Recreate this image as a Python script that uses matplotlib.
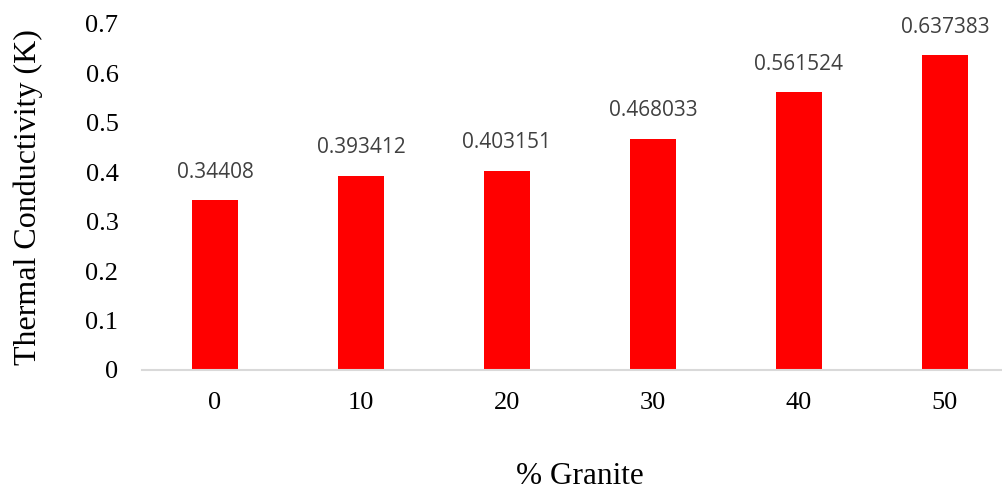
import matplotlib.pyplot as plt

# Thermal conductivity vs granite content
granite = ["0", "10", "20", "30", "40", "50"]
conductivity = [0.34408, 0.393412, 0.403151, 0.468033, 0.561524, 0.637383]

fig = plt.figure(figsize=(10.03, 4.91), dpi=100)
ax = fig.add_axes([142 / 1003, 1 - 370 / 491, 876 / 1003, 346 / 491])

x = range(len(granite))
bars = ax.bar(x, conductivity, width=0.32, color="#ff0000")

for b, v in zip(bars, conductivity):
    ax.annotate(f"{v:g}", (b.get_x() + b.get_width() / 2, v),
                xytext=(0, 12.5), textcoords="offset points",
                ha="center", va="bottom", fontsize=15,
                family="Open Sans", color="#404040")

ax.set_xlim(-0.5, len(granite) - 0.5)
ax.set_ylim(0, 0.7)
ax.set_xticks(list(x))
ax.set_xticklabels(granite)
ax.set_yticks([0, 0.1, 0.2, 0.3, 0.4, 0.5, 0.6, 0.7])
ax.set_yticklabels(["0", "0.1", "0.2", "0.3", "0.4", "0.5", "0.6", "0.7"])

for lbl in ax.get_xticklabels() + ax.get_yticklabels():
    lbl.set_family("Liberation Serif")
    lbl.set_fontsize(19)
    lbl.set_color("black")
ax.tick_params(axis="x", length=0, pad=16)
ax.tick_params(axis="y", length=0, pad=17)

for s in ["top", "right", "left"]:
    ax.spines[s].set_visible(False)
ax.spines["bottom"].set_color("#d9d9d9")
ax.spines["bottom"].set_linewidth(1.5)
ax.spines["bottom"].set_clip_on(False)

ax.set_ylabel("Thermal Conductivity (K)", family="Liberation Serif", fontsize=23)
ax.yaxis.set_label_coords(-0.113, 0.5)
ax.set_xlabel("% Granite", family="Liberation Serif", fontsize=22.5, va="top")
ax.xaxis.set_label_coords(0.5, -0.265)

plt.savefig("out.png", dpi=100)
